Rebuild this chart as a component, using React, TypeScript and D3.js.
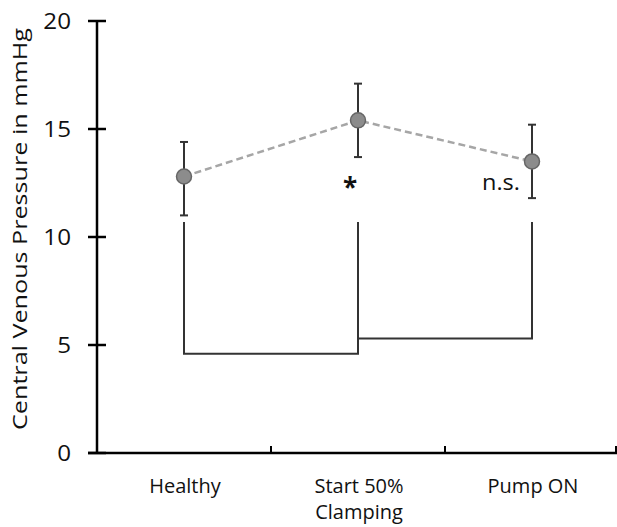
import React from "react";
import * as d3 from "d3";

const categories = ["Healthy", "Start 50%\nClamping", "Pump ON"];
const means = [12.8, 15.4, 13.5];
const upper = [14.4, 17.1, 15.2];
const lower = [11.0, 13.7, 11.8];
const yTicks = [0, 5, 10, 15, 20];
const bracketTop = 10.7;
const bracketLeftLevel = 4.6;
const bracketRightLevel = 5.3;

export default function App() {
  const W = 617, H = 527;
  const axisX = 97;
  const y = d3.scaleLinear().domain([0, 20]).range([453, 21]);
  const x = d3.scaleBand<number>().domain([0, 1, 2]).range([axisX, 619]);
  const cx = (i: number) => (x(i) as number) + x.bandwidth() / 2;
  const line = d3.line<number>().x((_, i) => cx(i)).y((d) => y(d));
  const font = "'Open Sans', 'DejaVu Sans', sans-serif";
  return (
    <svg width={W} height={H} style={{ position: "absolute", left: 0, top: 0 }} fontFamily={font}>
      {/* y axis */}
      <line x1={axisX} x2={axisX} y1={y(20)} y2={y(0) + 1} stroke="#000" strokeWidth={2.5} />
      {yTicks.map((t) => (
        <g key={t}>
          <line x1={axisX - 9} x2={axisX + 9} y1={y(t)} y2={y(t)} stroke="#000" strokeWidth={2.5} />
          <text x={71} y={y(t)} dy="0.36em" textAnchor="end" fontSize={22} fill="#111"
            transform={`translate(71,0) scale(1.1,1) translate(-71,0)`}>{t}</text>
        </g>
      ))}
      {/* x axis */}
      <line x1={axisX - 9} x2={617} y1={y(0)} y2={y(0)} stroke="#000" strokeWidth={2.5} />
      {[1, 2, 3].map((i) => {
        const xx = i < 3 ? (x(i) as number) : 616;
        return <line key={i} x1={xx} x2={xx} y1={y(0)} y2={y(0) - 7} stroke="#000" strokeWidth={2} />;
      })}
      {categories.map((c, i) => (
        <text key={i} x={cx(i)} y={493} textAnchor="middle" fontSize={20} fill="#111">
          {c.split("\n").map((l, j) => (
            <tspan key={j} x={cx(i) + 1} dy={j === 0 ? 0 : 26}>{l}</tspan>
          ))}
        </text>
      ))}
      {/* y label */}
      <text transform={`translate(27,${229}) rotate(-90)`} textAnchor="middle" fontSize={20.5} fill="#111"
        textLength={402} lengthAdjust="spacingAndGlyphs">
        Central Venous Pressure in mmHg
      </text>
      {/* brackets */}
      <path
        d={`M${cx(0)},${y(bracketTop)}V${y(bracketLeftLevel)}H${cx(1)}V${y(bracketTop)}`}
        fill="none" stroke="#333" strokeWidth={2}
      />
      <path
        d={`M${cx(1)},${y(bracketRightLevel)}H${cx(2)}V${y(bracketTop)}`}
        fill="none" stroke="#333" strokeWidth={2}
      />
      {/* dashed line */}
      <path d={line(means) || ""} fill="none" stroke="#a6a6a6" strokeWidth={2.5} strokeDasharray="7,4" />
      {/* error bars */}
      {means.map((m, i) => (
        <g key={i} stroke="#333" strokeWidth={2}>
          <line x1={cx(i)} x2={cx(i)} y1={y(upper[i])} y2={y(lower[i])} />
          <line x1={cx(i) - 4} x2={cx(i) + 4} y1={y(upper[i])} y2={y(upper[i])} />
          <line x1={cx(i) - 4} x2={cx(i) + 4} y1={y(lower[i])} y2={y(lower[i])} />
        </g>
      ))}
      {means.map((m, i) => (
        <circle key={i} cx={cx(i)} cy={y(m)} r={7.5} fill="#8c8c8c" stroke="#666" strokeWidth={1.5} />
      ))}
      {/* annotations */}
      <text x={cx(1) - 8} y={197} textAnchor="middle" fontSize={26} fontWeight="bold" fill="#111">*</text>
      <text x={cx(2) - 12} y={190} textAnchor="end" fontSize={21} fill="#111"
        textLength={38} lengthAdjust="spacingAndGlyphs">n.s.</text>
    </svg>
  );
}
